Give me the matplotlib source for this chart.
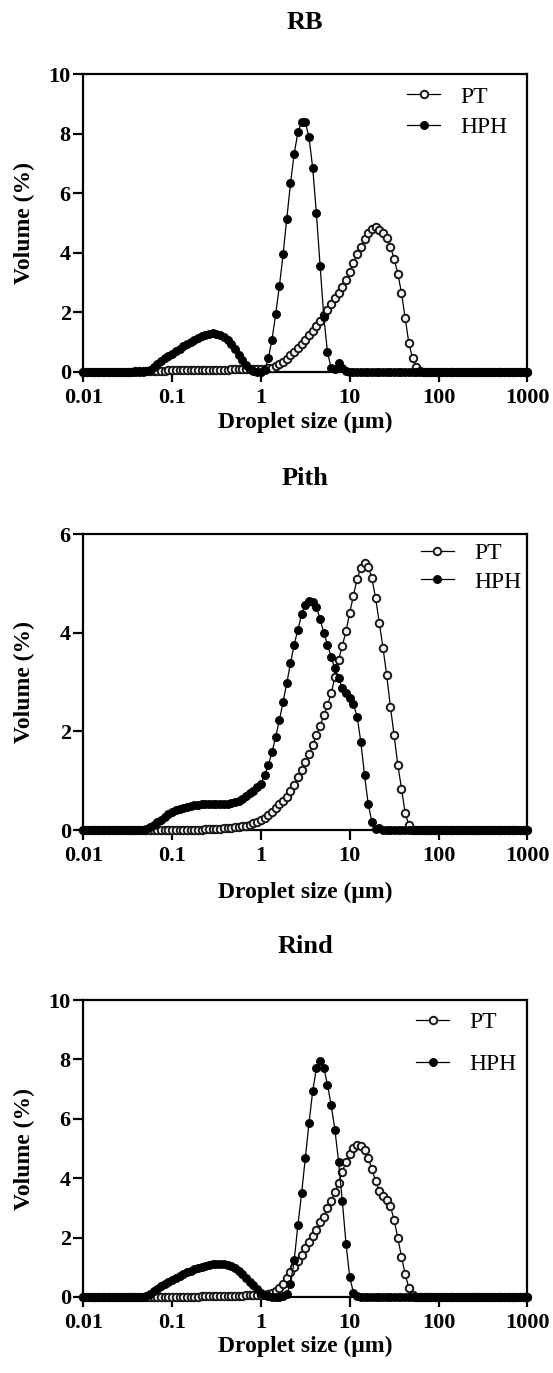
import matplotlib
matplotlib.use("Agg")
import matplotlib.pyplot as plt
from matplotlib.ticker import FixedLocator, FixedFormatter, NullLocator

# ---------------- data ----------------
size_um = [
    0.01, 0.01101, 0.01212, 0.01334, 0.01468, 0.01616, 0.01778, 0.01957, 0.02154, 0.02371, 0.0261, 0.02873,
    0.03162, 0.03481, 0.03831, 0.04217, 0.04642, 0.05109, 0.05623, 0.0619, 0.06813, 0.07499, 0.08254, 0.09085,
    0.1, 0.1101, 0.1212, 0.1334, 0.1468, 0.1616, 0.1778, 0.1957, 0.2154, 0.2371, 0.261, 0.2873,
    0.3162, 0.3481, 0.3831, 0.4217, 0.4642, 0.5109, 0.5623, 0.619, 0.6813, 0.7499, 0.8254, 0.9085,
    1.0, 1.101, 1.212, 1.334, 1.468, 1.616, 1.778, 1.957, 2.154, 2.371, 2.61, 2.873,
    3.162, 3.481, 3.831, 4.217, 4.642, 5.109, 5.623, 6.19, 6.813, 7.499, 8.254, 9.085,
    10.0, 11.01, 12.12, 13.34, 14.68, 16.16, 17.78, 19.57, 21.54, 23.71, 26.1, 28.73,
    31.62, 34.81, 38.31, 42.17, 46.42, 51.09, 56.23, 61.9, 68.13, 74.99, 82.54, 90.85,
    100.0, 110.1, 121.2, 133.4, 146.8, 161.6, 177.8, 195.7, 215.4, 237.1, 261.0, 287.3,
    316.2, 348.1, 383.1, 421.7, 464.2, 510.9, 562.3, 619.0, 681.3, 749.9, 825.4, 908.5,
    1000.0,
]

rb_pt = [
    0, 0, 0, 0, 0, 0, 0, 0, 0, 0, 0, 0, 0, 0, 0.01, 0.01, 0.02, 0.02, 0.03, 0.03, 0.04, 0.04, 0.04, 0.05,
    0.05, 0.05, 0.05, 0.05, 0.06, 0.06, 0.06, 0.06, 0.06, 0.06, 0.07, 0.07, 0.07, 0.07, 0.07, 0.07, 0.08, 0.08, 0.08, 0.08, 0.08, 0.09, 0.09, 0.09,
    0.1, 0.1, 0.11, 0.14, 0.19, 0.25, 0.33, 0.43, 0.55, 0.67, 0.8, 0.94, 1.08, 1.22, 1.38, 1.54, 1.71, 1.89, 2.08, 2.28, 2.47, 2.65, 2.85, 3.07,
    3.35, 3.65, 3.95, 4.2, 4.45, 4.65, 4.8, 4.85, 4.78, 4.65, 4.5, 4.2, 3.8, 3.3, 2.65, 1.8, 0.95, 0.45, 0.17, 0.04, 0, 0, 0, 0,
    0, 0, 0, 0, 0, 0, 0, 0, 0, 0, 0, 0, 0, 0, 0, 0, 0, 0, 0, 0, 0, 0, 0, 0,
    0,
]
rb_hph = [
    0, 0, 0, 0, 0, 0, 0, 0, 0, 0, 0, 0, 0, 0, 0, 0, 0, 0.02, 0.07, 0.15, 0.26, 0.36, 0.45, 0.53,
    0.61, 0.69, 0.77, 0.85, 0.93, 1.0, 1.07, 1.13, 1.19, 1.24, 1.27, 1.29, 1.28, 1.25, 1.18, 1.07, 0.93, 0.76, 0.57, 0.38, 0.21, 0.08, 0.02, 0,
    0, 0.05, 0.45, 1.08, 1.95, 2.88, 3.95, 5.15, 6.33, 7.33, 8.05, 8.41, 8.39, 7.88, 6.85, 5.33, 3.56, 1.85, 0.65, 0.12, 0.1, 0.28, 0.12, 0.02,
    0, 0, 0, 0, 0, 0, 0, 0, 0, 0, 0, 0, 0, 0, 0, 0, 0, 0, 0, 0, 0, 0, 0, 0,
    0, 0, 0, 0, 0, 0, 0, 0, 0, 0, 0, 0, 0, 0, 0, 0, 0, 0, 0, 0, 0, 0, 0, 0,
    0,
]

pith_pt = [
    0, 0, 0, 0, 0, 0, 0, 0, 0, 0, 0, 0, 0, 0, 0, 0, 0, 0, 0, 0, 0, 0, 0, 0,
    0, 0, 0, 0, 0, 0, 0.01, 0.01, 0.01, 0.02, 0.02, 0.02, 0.03, 0.03, 0.04, 0.04, 0.05, 0.06, 0.07, 0.08, 0.09, 0.11, 0.14, 0.17,
    0.2, 0.25, 0.31, 0.37, 0.45, 0.52, 0.59, 0.67, 0.79, 0.92, 1.07, 1.22, 1.37, 1.54, 1.72, 1.92, 2.11, 2.33, 2.53, 2.77, 3.1, 3.45, 3.73, 4.03,
    4.4, 4.75, 5.09, 5.31, 5.42, 5.33, 5.1, 4.7, 4.2, 3.69, 3.14, 2.5, 1.92, 1.32, 0.84, 0.34, 0.1, 0.01, 0, 0, 0, 0, 0, 0,
    0, 0, 0, 0, 0, 0, 0, 0, 0, 0, 0, 0, 0, 0, 0, 0, 0, 0, 0, 0, 0, 0, 0, 0,
    0,
]
pith_hph = [
    0, 0, 0, 0, 0, 0, 0, 0, 0, 0, 0, 0, 0, 0, 0, 0, 0, 0.02, 0.06, 0.11, 0.16, 0.21, 0.27, 0.32,
    0.36, 0.4, 0.43, 0.45, 0.47, 0.49, 0.5, 0.51, 0.52, 0.52, 0.52, 0.52, 0.52, 0.52, 0.52, 0.53, 0.54, 0.56, 0.59, 0.63, 0.68, 0.74, 0.8, 0.87,
    0.94, 1.11, 1.31, 1.58, 1.89, 2.23, 2.6, 2.98, 3.38, 3.76, 4.06, 4.37, 4.57, 4.64, 4.63, 4.52, 4.27, 4.0, 3.76, 3.5, 3.28, 3.08, 2.87, 2.77,
    2.67, 2.55, 2.3, 1.79, 1.11, 0.53, 0.16, 0.02, 0.05, 0.01, 0, 0, 0, 0, 0, 0, 0, 0, 0, 0, 0, 0, 0, 0,
    0, 0, 0, 0, 0, 0, 0, 0, 0, 0, 0, 0, 0, 0, 0, 0, 0, 0, 0, 0, 0, 0, 0, 0,
    0,
]

rind_pt = [
    0, 0, 0, 0, 0, 0, 0, 0, 0, 0, 0, 0, 0, 0, 0, 0, 0, 0, 0, 0, 0, 0, 0, 0,
    0, 0, 0, 0, 0, 0, 0.01, 0.01, 0.02, 0.02, 0.02, 0.03, 0.03, 0.03, 0.04, 0.04, 0.04, 0.05, 0.05, 0.05, 0.06, 0.06, 0.06, 0.06,
    0.06, 0.07, 0.1, 0.15, 0.2, 0.3, 0.43, 0.64, 0.83, 1.02, 1.22, 1.43, 1.64, 1.84, 2.05, 2.27, 2.51, 2.71, 2.99, 3.24, 3.55, 3.84, 4.22, 4.55,
    4.81, 5.01, 5.13, 5.1, 4.95, 4.67, 4.3, 3.91, 3.57, 3.41, 3.28, 3.05, 2.6, 1.99, 1.35, 0.76, 0.3, 0.07, 0, 0, 0, 0, 0, 0,
    0, 0, 0, 0, 0, 0, 0, 0, 0, 0, 0, 0, 0, 0, 0, 0, 0, 0, 0, 0, 0, 0, 0, 0,
    0,
]
rind_hph = [
    0, 0, 0, 0, 0, 0, 0, 0, 0, 0, 0, 0, 0, 0, 0, 0, 0, 0.03, 0.1, 0.19, 0.28, 0.36, 0.44, 0.51,
    0.58, 0.65, 0.71, 0.77, 0.83, 0.88, 0.93, 0.98, 1.02, 1.05, 1.08, 1.1, 1.12, 1.12, 1.11, 1.08, 1.03, 0.96, 0.87, 0.77, 0.65, 0.52, 0.39, 0.26,
    0.14, 0.06, 0.02, 0, 0, 0, 0.02, 0.1, 0.45, 1.24, 2.42, 3.49, 4.67, 5.86, 6.93, 7.71, 7.96, 7.71, 7.15, 6.45, 5.63, 4.56, 3.23, 1.8,
    0.68, 0.15, 0.03, 0, 0, 0, 0, 0, 0, 0, 0, 0, 0, 0, 0, 0, 0, 0, 0, 0, 0, 0, 0, 0,
    0, 0, 0, 0, 0, 0, 0, 0, 0, 0, 0, 0, 0, 0, 0, 0, 0, 0, 0, 0, 0, 0, 0, 0,
    0,
]

panel_titles = ["RB", "Pith", "Rind"]
series_labels = ["PT", "HPH"]
x_ticks = [0.01, 0.1, 1, 10, 100, 1000]
x_ticklabels = ["0.01", "0.1", "1", "10", "100", "1000"]
y_ticks = [[0, 2, 4, 6, 8, 10], [0, 2, 4, 6], [0, 2, 4, 6, 8, 10]]
x_label = "Droplet size (\u03bcm)"
y_label = "Volume (%)"
panel_data = [(rb_pt, rb_hph), (pith_pt, pith_hph), (rind_pt, rind_hph)]

# ---------------- layout (pixels) ----------------
W, H = 553, 1373
plt.rcParams["font.family"] = ["Liberation Serif", "DejaVu Serif"]
plt.rcParams["font.weight"] = "bold"

fig = plt.figure(figsize=(W / 100, H / 100), dpi=100)
fig.patch.set_facecolor("white")

# left, top, right, bottom of each axes box in px
boxes = [(83.3, 74.3, 527.3, 371.7), (83.3, 534.0, 527.3, 830.0), (83.3, 1000.0, 527.3, 1297.0)]
title_y = [22.5, 478.5, 946.8]
xlabel_y = [422.0, 892.0, 1346.0]
ylabel_x = 24.6
legend_anchor = [(0.73, 0.96), (0.76, 0.97), (0.75, 0.96)]
legend_spacing = [0.38, 0.28, 0.85]

for k in range(3):
    l, t, r, b = boxes[k]
    ax = fig.add_axes([l / W, 1 - b / H, (r - l) / W, (b - t) / H])
    pt, hph = panel_data[k]
    ax.plot(size_um, pt, "-", color="black", lw=0.9, marker="o", ms=5.4,
            mfc="#f2f2f2", mec="#151515", mew=1.35, clip_on=False, zorder=3,
            label=series_labels[0])
    ax.plot(size_um, hph, "-", color="black", lw=0.9, marker="o", ms=5.8,
            mfc="black", mec="black", mew=0.6, clip_on=False, zorder=4,
            label=series_labels[1])
    ax.set_xscale("log")
    ax.set_xlim(0.01, 1000)
    ax.set_ylim(0, y_ticks[k][-1])
    ax.xaxis.set_major_locator(FixedLocator(x_ticks))
    ax.xaxis.set_major_formatter(FixedFormatter(x_ticklabels))
    ax.xaxis.set_minor_locator(NullLocator())
    ax.set_yticks(y_ticks[k])
    ax.set_yticklabels([str(v) for v in y_ticks[k]])
    for s in ax.spines.values():
        s.set_linewidth(1.6)
    ax.tick_params(axis="both", which="major", length=7.5, width=1.6,
                   labelsize=16, direction="out")
    ax.tick_params(axis="x", pad=4)
    ax.tick_params(axis="y", pad=1.5)
    for lab in ax.get_xticklabels() + ax.get_yticklabels():
        lab.set_fontweight("bold")

    cx = (l + r) / 2
    fig.text(cx / W, 1 - title_y[k] / H, panel_titles[k], ha="center", va="center",
             fontsize=19, fontweight="bold")
    fig.text(cx / W, 1 - xlabel_y[k] / H, x_label, ha="center", va="center",
             fontsize=17, fontweight="bold")
    fig.text(ylabel_x / W, 1 - ((t + b) / 2) / H, y_label, ha="center", va="center",
             rotation=90, fontsize=17, fontweight="bold")

    leg = ax.legend(loc="upper left", bbox_to_anchor=legend_anchor[k], frameon=False,
                    prop={"family": "Liberation Serif", "weight": "normal", "size": 17},
                    handlelength=1.4, handletextpad=0.85, labelspacing=legend_spacing[k],
                    borderpad=0, borderaxespad=0, numpoints=1)

fig.savefig("out.png", dpi=100, facecolor="white")
